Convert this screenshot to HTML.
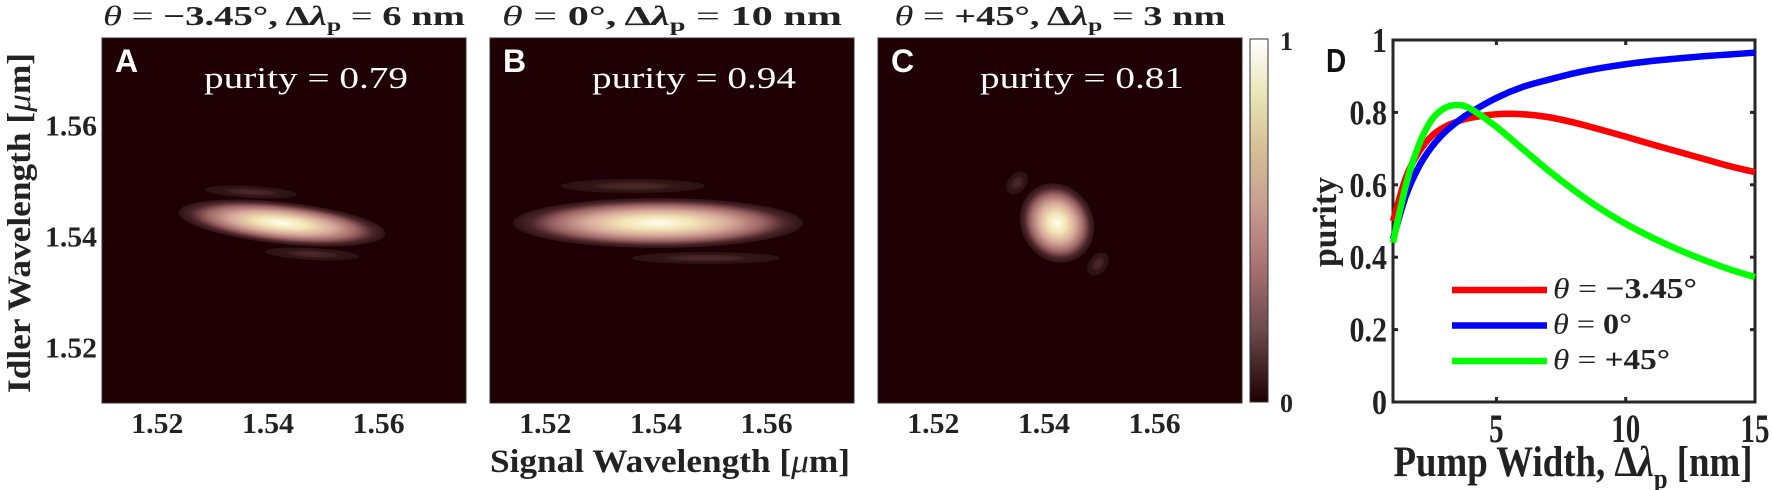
<!DOCTYPE html>
<html><head><meta charset="utf-8"><style>
body{margin:0;background:#fff;width:1772px;height:490px;overflow:hidden}
svg{display:block}
text{font-family:"Liberation Serif",serif}
</style></head><body>
<svg id="fig" width="1772" height="490">
<defs>
<radialGradient id="pk">
<stop offset="0" stop-color="#fffff2"/>
<stop offset="0.25" stop-color="#f3e4b4"/>
<stop offset="0.5" stop-color="#d6a89a"/>
<stop offset="0.72" stop-color="#9c6464"/>
<stop offset="0.88" stop-color="#4a2528"/>
<stop offset="1" stop-color="#2e1114"/>
</radialGradient>
<radialGradient id="lobe">
<stop offset="0" stop-color="#4e2a2c"/>
<stop offset="0.5" stop-color="#40201f"/>
<stop offset="0.55" stop-color="#321618"/>
<stop offset="1" stop-color="#2c1214"/>
</radialGradient>
<linearGradient id="cbar" x1="0" y1="1" x2="0" y2="0">
<stop offset="0" stop-color="#1e0003"/>
<stop offset="0.2" stop-color="#6e4a4a"/>
<stop offset="0.4" stop-color="#b07878"/>
<stop offset="0.55" stop-color="#c8a092"/>
<stop offset="0.7" stop-color="#d6c096"/>
<stop offset="0.85" stop-color="#e8e6b8"/>
<stop offset="1" stop-color="#ffffff"/>
</linearGradient>
</defs>
<g id="heatG"></g>
<g id="pdG"></g>
</svg>
<script>
// Panel D data
const pumpX = [1,1.5,2,2.5,3,3.5,4,5,6,7,8,9,10,11,12,13,14,15];
const redY  = [0.50,0.62,0.69,0.735,0.76,0.775,0.785,0.795,0.795,0.787,0.772,0.753,0.733,0.712,0.692,0.672,0.652,0.635];
const blueY = [0.45,0.57,0.65,0.705,0.745,0.775,0.80,0.84,0.87,0.89,0.908,0.922,0.933,0.942,0.949,0.955,0.96,0.965];
const greenY= [0.44,0.60,0.71,0.78,0.812,0.82,0.81,0.76,0.70,0.64,0.585,0.535,0.492,0.455,0.422,0.393,0.367,0.345];
const xTicks = [5,10,15];
const yTicks = [0,0.2,0.4,0.6,0.8,1];
const heatTicks = [1.52,1.54,1.56];
const titles = ["A","B","C"];
const purities = ["0.79","0.94","0.81"];

const NS="http://www.w3.org/2000/svg";
function mk(t,a,p){const e=document.createElementNS(NS,t);for(const k in a)e.setAttribute(k,a[k]);p.appendChild(e);return e;}
const heatEl=document.getElementById('heatG');
const pdEl=document.getElementById('pdG');
const panelL=[102,490,878], pTop=38, pBot=403, PW=364;
const wmin=1.51, wmax=1.5758;
function hx(i,v){return panelL[i]+(v-wmin)/(wmax-wmin)*PW;}
function hy(v){return pBot-(v-wmin)/(wmax-wmin)*(pBot-pTop);}
const LA={'lengthAdjust':'spacingAndGlyphs'};

panelL.forEach((L,i)=>{
  const g=mk('g',{},heatEl);
  
  
  mk('rect',{x:L,y:pTop,width:PW,height:pBot-pTop,fill:'#1f0004',stroke:'#333','stroke-width':1},g);
  heatTicks.forEach(t=>{
    const tl=mk('text',{x:hx(i,t),y:433,'text-anchor':'middle','font-size':28,'font-weight':'bold',fill:'#222',textLength:52,...LA},g);
    tl.textContent=t.toFixed(2);
    
    
    if(i===0){
      const yl=mk('text',{x:97,y:hy(t)+10,'text-anchor':'end','font-size':28,'font-weight':'bold',fill:'#222',textLength:52,...LA},g);
      yl.textContent=t.toFixed(2);
      
      
    }
  });
  const lt=mk('text',{x:L+13,y:72,'font-size':32,'font-weight':'bold',fill:'#fff',style:'font-family:"Liberation Sans",sans-serif'},g);
  lt.textContent=titles[i];
  
  
  const pt=mk('text',{x:L+204,y:88,'text-anchor':'middle','font-size':31,fill:'#fff',textLength:204,...LA},g);
  pt.textContent='purity = '+purities[i];
  
  
});
function ell(cx,cy,rx,ry,rot,fill){mk('ellipse',{cx,cy,rx,ry,fill,transform:`rotate(${rot} ${cx} ${cy})`},heatEl);}
// A
ell(251,192,46,6,3,'url(#lobe)');
ell(312,254,47,6,3,'url(#lobe)');
ell(282,223,104,21,6,'url(#pk)');
// B
ell(633,186,72,7,0,'url(#lobe)');
ell(706,258,74,6,0,'url(#lobe)');
ell(658,223,145,25,0,'url(#pk)');
// C
ell(1017,183,9,13,40,'url(#lobe)');
ell(1098,264,9,13,40,'url(#lobe)');
ell(1057,223,36,41,-30,'url(#pk)');

const cb=mk('rect',{x:1250,y:39,width:18,height:363,fill:'url(#cbar)',stroke:'#333','stroke-width':1},heatEl);


[['1',50],['0',412]].forEach(([s,y])=>{const t=mk('text',{x:1280,y:y,'font-size':26,'font-weight':'bold',fill:'#222'},heatEl);t.textContent=s;});

const titleStrs=[['−3.45°','6'],['0°','10'],['+45°','3']];
const titleW=[362,340,331];
panelL.forEach((L,i)=>{
  const t=mk('text',{x:L+PW/2,y:25,'text-anchor':'middle','font-size':27,'font-weight':'bold',fill:'#222',textLength:titleW[i],...LA},heatEl);
  
  
  t.innerHTML=`<tspan font-style="italic" font-weight="normal">θ</tspan><tspan font-weight="normal"> = </tspan>${titleStrs[i][0]}, Δ<tspan font-style="italic">λ</tspan><tspan font-size="18" dy="6">p</tspan><tspan dy="-6" font-weight="normal"> = </tspan>${titleStrs[i][1]} nm`;
});
const xl=mk('text',{x:670,y:472,'text-anchor':'middle','font-size':33,'font-weight':'bold',fill:'#222',textLength:360,...LA},heatEl);
xl.innerHTML='Signal Wavelength [<tspan font-style="italic" font-weight="normal">μ</tspan>m]';

const ylab=mk('text',{x:0,y:0,'text-anchor':'middle','font-size':33,'font-weight':'bold',fill:'#222',textLength:340,...LA,transform:'translate(30,223) rotate(-90)'},heatEl);
ylab.innerHTML='Idler Wavelength [<tspan font-style="italic" font-weight="normal">μ</tspan>m]';


// Panel D
const dL=1393,dR=1755,dT=40,dB=402,xmin=1,xmax=15;
function dx(v){return dL+(v-xmin)/(xmax-xmin)*(dR-dL);}
function dy(v){return dB-v*(dB-dT);}
mk('rect',{x:dL,y:dT,width:dR-dL,height:dB-dT,fill:'#fff',stroke:'#262626','stroke-width':3},pdEl);
xTicks.forEach(t=>{
  mk('line',{x1:dx(t),x2:dx(t),y1:dB,y2:dB-5,stroke:'#262626','stroke-width':3},pdEl);
  mk('line',{x1:dx(t),x2:dx(t),y1:dT,y2:dT+5,stroke:'#262626','stroke-width':3},pdEl);
  const l=mk('text',{x:0,y:0,'text-anchor':'middle','font-size':29,'font-weight':'bold',fill:'#222',transform:`translate(${dx(t)},442) scale(1,1.4)`},pdEl);
  l.textContent=t;
  
});
yTicks.forEach(t=>{
  mk('line',{x1:dL,x2:dL+5,y1:dy(t),y2:dy(t),stroke:'#262626','stroke-width':3},pdEl);
  mk('line',{x1:dR,x2:dR-5,y1:dy(t),y2:dy(t),stroke:'#262626','stroke-width':3},pdEl);
  const l=mk('text',{x:0,y:0,'text-anchor':'end','font-size':30,'font-weight':'bold',fill:'#222',transform:`translate(${dL-6},${dy(t)+12}) scale(1,1.15)`},pdEl);
  l.textContent=String(t);
  
});
function pathFrom(ys){
  const P=pumpX.map((x,i)=>[dx(x),dy(ys[i])]);
  let d=`M${P[0][0]},${P[0][1]}`;
  for(let i=0;i<P.length-1;i++){
    const p0=P[Math.max(0,i-1)],p1=P[i],p2=P[i+1],p3=P[Math.min(P.length-1,i+2)];
    d+=` C${p1[0]+(p2[0]-p0[0])/6},${p1[1]+(p2[1]-p0[1])/6} ${p2[0]-(p3[0]-p1[0])/6},${p2[1]-(p3[1]-p1[1])/6} ${p2[0]},${p2[1]}`;
  }
  return d;
}
[[redY,'#ff0000','line-theta-neg3-45'],[blueY,'#0000ff','line-theta-0'],[greenY,'#00ff00','line-theta-45']].forEach(([ys,c,nm])=>{
  const p=mk('path',{d:pathFrom(ys),fill:'none',stroke:c,'stroke-width':6.5,'stroke-linejoin':'round'},pdEl);
  
  
});
const leg=[['#ff0000','−3.45°',144],['#0000ff','0°',79],['#00ff00','+45°',117]];
const lg=mk('g',{},pdEl);

leg.forEach(([c,s,w],i)=>{
  const y=290+i*35.5;
  mk('line',{x1:1452,x2:1547,y1:y,y2:y,stroke:c,'stroke-width':6.5},lg);
  const t=mk('text',{x:1553,y:y+8,'font-size':29,fill:'#222',textLength:w,...LA},lg);
  t.innerHTML=`<tspan font-style="italic">θ</tspan> = <tspan font-weight="bold">${s}</tspan>`;
  
});
const Dl=mk('text',{x:1326,y:72,'font-size':28,'font-weight':'bold',fill:'#111',style:'font-family:"Liberation Sans",sans-serif',transform:'translate(1326,72) scale(1,1.2) translate(-1326,-72)'},pdEl);Dl.textContent='D';
const px=mk('text',{x:0,y:0,'text-anchor':'middle','font-size':34,'font-weight':'bold',fill:'#222',textLength:90,...LA,transform:'translate(1336,222) rotate(-90)'},pdEl);px.textContent='purity';

const xd=mk('text',{x:0,y:0,'text-anchor':'middle','font-size':36,'font-weight':'bold',fill:'#222',textLength:359,...LA,transform:'translate(1573,476) scale(1,1.2)'},pdEl);
xd.innerHTML='Pump Width, Δ<tspan font-style="italic">λ</tspan><tspan font-size="24" dy="10">p</tspan><tspan dy="-10"> [nm]</tspan>';

</script>
</body></html>
